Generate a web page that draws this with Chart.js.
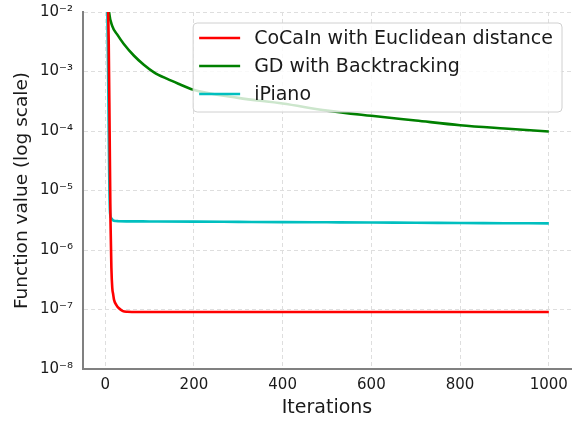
<!DOCTYPE html>
<html>
<head>
<meta charset="utf-8">
<script src="https://cdn.jsdelivr.net/npm/chart.js@4"></script>
<style>
  html, body { margin: 0; padding: 0; background: #ffffff; }
  #wrap { width: 582px; height: 423px; }
</style>
</head>
<body>
<div id="wrap"><canvas id="c" width="582" height="423"></canvas></div>
<script>
// ---- data ----
const seriesLabels = ["CoCaIn with Euclidean distance", "GD with Backtracking", "iPiano"];
const seriesColors = ["#ff0000", "#008000", "#00bfbf"];

const cocainIter = [0, 3, 6, 8, 10, 12, 14, 16, 18, 20, 25, 31, 40, 50, 60, 100, 200, 300, 400, 500, 600, 700, 800, 900, 1000];
const cocainVal  = [1, 0.1, 0.02, 3e-3, 1e-4, 3e-6, 5e-7, 2.3e-7, 1.8e-7, 1.45e-7, 1.2e-7, 1.05e-7, 9.4e-8, 9.15e-8, 9.1e-8, 9.1e-8, 9.1e-8, 9.1e-8, 9.1e-8, 9.1e-8, 9.1e-8, 9.1e-8, 9.1e-8, 9.1e-8, 9.1e-8];

const gdIter = [0, 4, 9, 16, 27, 42, 65, 87, 110, 140, 170, 193, 300, 400, 500, 600, 700, 800, 900, 1000];
const gdVal  = [0.5, 0.03, 9.7e-3, 5.8e-3, 4.2e-3, 2.9e-3, 1.84e-3, 1.3e-3, 9.7e-4, 7.5e-4, 6.0e-4, 5.1e-4, 3.6e-4, 2.9e-4, 2.2e-4, 1.8e-4, 1.5e-4, 1.25e-4, 1.1e-4, 9.8e-5];

const ipianoIter = [0, 3, 5, 7, 9, 11, 14, 18, 24, 30, 50, 100, 200, 300, 400, 500, 600, 700, 800, 900, 1000];
const ipianoVal  = [1, 0.05, 1e-2, 5e-4, 2e-5, 4.2e-6, 3.4e-6, 3.15e-6, 3.07e-6, 3.05e-6, 3.03e-6, 3.02e-6, 3.0e-6, 2.97e-6, 2.94e-6, 2.92e-6, 2.9e-6, 2.87e-6, 2.85e-6, 2.82e-6, 2.8e-6];

const xTickValues = [0, 200, 400, 600, 800, 1000];
const yTickValues = [1e-8, 1e-7, 1e-6, 1e-5, 1e-4, 1e-3, 1e-2];
const xRange = [-50, 1050];
const yRange = [1e-8, 1e-2];
const xTitle = "Iterations";
const yTitle = "Function value (log scale)";

// ---- helpers ----
const supMap = {"-": "\u207B", "0": "\u2070", "1": "\u00B9", "2": "\u00B2", "3": "\u00B3", "4": "\u2074",
                "5": "\u2075", "6": "\u2076", "7": "\u2077", "8": "\u2078", "9": "\u2079"};
function powLabel(v) {
  const e = Math.round(Math.log10(v));
  return "10" + String(e).split("").map(ch => supMap[ch]).join("");
}
function pts(xs, ys) { return xs.map((x, i) => ({x: x, y: ys[i]})); }

const FONT = '"DejaVu Sans", "Liberation Sans", sans-serif';
const TEXT = "#1a1a1a";

const boxLegend = {
  id: "boxLegend",
  afterDatasetsDraw(chart) {
    const ctx = chart.ctx, area = chart.chartArea;
    ctx.save();
    ctx.font = "19px " + FONT;
    const labels = chart.data.datasets.map(d => d.label);
    const maxW = Math.max(...labels.map(t => ctx.measureText(t).width));
    const padL = 6, lineLen = 41, gap = 14, padR = 9;
    const w = padL + lineLen + gap + maxW + padR;
    const right = area.right - 9, left = right - w;
    const top = area.top + 11, h = 89;
    const r = 4;
    ctx.beginPath();
    ctx.moveTo(left + r, top);
    ctx.lineTo(right - r, top);
    ctx.quadraticCurveTo(right, top, right, top + r);
    ctx.lineTo(right, top + h - r);
    ctx.quadraticCurveTo(right, top + h, right - r, top + h);
    ctx.lineTo(left + r, top + h);
    ctx.quadraticCurveTo(left, top + h, left, top + h - r);
    ctx.lineTo(left, top + r);
    ctx.quadraticCurveTo(left, top, left + r, top);
    ctx.closePath();
    ctx.fillStyle = "rgba(255,255,255,0.8)";
    ctx.fill();
    ctx.strokeStyle = "#d0d0d0";
    ctx.lineWidth = 1;
    ctx.stroke();
    chart.data.datasets.forEach((d, i) => {
      const y = top + 15 + i * 28;
      ctx.beginPath();
      ctx.moveTo(left + padL, y);
      ctx.lineTo(left + padL + lineLen, y);
      ctx.strokeStyle = d.borderColor;
      ctx.lineWidth = 2.6;
      ctx.stroke();
      ctx.fillStyle = TEXT;
      ctx.textBaseline = "middle";
      ctx.textAlign = "left";
      ctx.fillText(d.label, left + padL + lineLen + gap, y + 1);
    });
    ctx.restore();
  }
};

Chart.defaults.font.family = FONT;
Chart.defaults.color = TEXT;

const mk = (i, xs, ys) => ({
  label: seriesLabels[i],
  data: pts(xs, ys),
  borderColor: seriesColors[i],
  backgroundColor: seriesColors[i],
  borderWidth: 2.6,
  pointRadius: 0,
  cubicInterpolationMode: "monotone",
  fill: false
});

new Chart(document.getElementById("c"), {
  type: "line",
  data: {
    datasets: [
      mk(0, cocainIter, cocainVal),
      mk(1, gdIter, gdVal),
      mk(2, ipianoIter, ipianoVal)
    ]
  },
  options: {
    responsive: false,
    devicePixelRatio: 1,
    animation: false,
    layout: { padding: { left: 0, right: 11, top: 12, bottom: 0 } },
    plugins: { legend: { display: false }, tooltip: { enabled: false } },
    scales: {
      x: {
        type: "linear",
        min: xRange[0], max: xRange[1],
        afterBuildTicks(scale) { scale.ticks = xTickValues.map(v => ({value: v})); },
        afterFit(scale) { scale.height = 54; scale.paddingLeft = 0; scale.paddingRight = 0; },
        grid: { color: "#dedede", lineWidth: 1, drawTicks: false },
        border: { display: true, color: "#808080", width: 2, dash: [4, 3] },
        ticks: { font: { size: 15 }, color: TEXT, padding: 7, maxRotation: 0, autoSkip: false,
                 callback: (v) => String(v) },
        title: { display: true, text: xTitle, font: { size: 19 }, color: TEXT, padding: { top: 0, bottom: 4 } }
      },
      y: {
        type: "logarithmic",
        min: yRange[0], max: yRange[1],
        afterBuildTicks(scale) { scale.ticks = yTickValues.map(v => ({value: v})); },
        afterFit(scale) { scale.width = 83; scale.paddingTop = 0; scale.paddingBottom = 0; },
        grid: { color: "#dedede", lineWidth: 1, drawTicks: false },
        border: { display: true, color: "#808080", width: 2, dash: [4, 3] },
        ticks: { font: { size: 15 }, color: TEXT, padding: 10, autoSkip: false,
                 callback: (v) => powLabel(v) },
        title: { display: true, text: yTitle, font: { size: 18.5 }, color: TEXT, padding: { top: 11, bottom: 0 } }
      }
    }
  },
  plugins: [boxLegend]
});
</script>
</body>
</html>
